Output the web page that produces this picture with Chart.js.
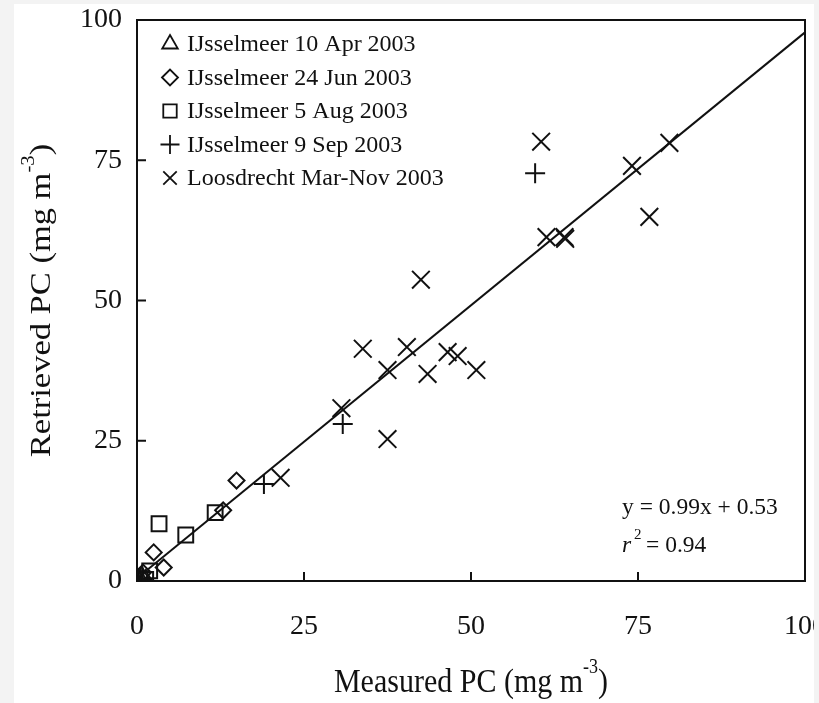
<!DOCTYPE html>
<html>
<head>
<meta charset="utf-8">
<script src="https://cdn.jsdelivr.net/npm/chart.js@4/dist/chart.umd.min.js"></script>
<style>
  html, body { margin: 0; padding: 0; background: #f3f3f3; overflow: hidden; }
  #sheet { position: absolute; left: 14px; top: 4px; width: 800px; height: 699px; background: #fff; overflow: hidden; }
  #pcChart { display: block; }
</style>
</head>
<body>
<div id="sheet">
  <canvas id="pcChart" width="830" height="699"></canvas>
</div>
<script>
// series labels (legend order)
const seriesLabels = [
  "IJsselmeer 10 Apr 2003",
  "IJsselmeer 24 Jun 2003",
  "IJsselmeer 5 Aug 2003",
  "IJsselmeer 9 Sep 2003",
  "Loosdrecht Mar-Nov 2003",
]

// measured (x) / retrieved (y) PC, mg m-3
const apr10Measured = [0.2, 0.7, 1.3, 0.4]
const apr10Retrieved = [0.2, 1.0, 0.3, 0.6]

const jun24Measured = [0.9, 2.5, 4.0, 12.9, 14.9]
const jun24Retrieved = [1.5, 5.1, 2.4, 12.6, 17.9]

const aug5Measured = [1.3, 1.9, 3.3, 7.3, 11.7]
const aug5Retrieved = [0.3, 1.8, 10.2, 8.2, 12.2]

const sep9Measured = [0.5, 19.0, 30.8, 59.6]
const sep9Retrieved = [0.4, 17.3, 28.0, 72.7]

const loosMeasured = [60.5, 79.7, 74.1, 76.7, 61.3, 64.0, 64.1, 42.5, 33.8, 40.4, 46.5, 48.0, 37.5, 43.5, 50.8, 30.6, 37.5, 21.5]
const loosRetrieved = [78.3, 78.1, 74.0, 64.9, 61.3, 61.3, 61.0, 53.7, 41.4, 41.7, 40.8, 40.1, 37.6, 36.9, 37.6, 30.8, 25.3, 18.4]

// regression line end points as drawn
const fitMeasured = [0, 100]
const fitRetrieved = [0.5, 97.8]

const tickValues = [0, 25, 50, 75, 100]
const fitText = "y = 0.99x + 0.53"
const r2Text = "= 0.94"

const INK = "#111"
const SERIF = "'Liberation Serif', 'Times New Roman', serif"

function toPoints(xs, ys) {
  return xs.map((x, i) => ({ x: x, y: ys[i] }))
}

const markerStyles = [
  { pointStyle: "triangle", radius: 9 },
  { pointStyle: "rectRot", radius: 8 },
  { pointStyle: "rect", radius: 10.5 },
  { pointStyle: "cross", radius: 10 },
  { pointStyle: "crossRot", radius: 12.5 },
]

const seriesData = [
  toPoints(apr10Measured, apr10Retrieved),
  toPoints(jun24Measured, jun24Retrieved),
  toPoints(aug5Measured, aug5Retrieved),
  toPoints(sep9Measured, sep9Retrieved),
  toPoints(loosMeasured, loosRetrieved),
]

const datasets = seriesData.map((pts, i) => ({
  label: seriesLabels[i],
  data: pts,
  pointStyle: markerStyles[i].pointStyle,
  pointRadius: markerStyles[i].radius,
  pointHoverRadius: markerStyles[i].radius,
  pointBorderWidth: 2,
  pointBorderColor: INK,
  pointBackgroundColor: "rgba(0,0,0,0)",
  showLine: false,
}))

datasets.push({
  label: "fit",
  data: toPoints(fitMeasured, fitRetrieved),
  showLine: true,
  borderColor: INK,
  borderWidth: 2,
  pointRadius: 0,
  fill: false,
})

// frame, inward ticks, legend, equation and axis titles
const decorPlugin = {
  id: "decor",
  afterDraw(chart) {
    const ctx = chart.ctx
    const area = chart.chartArea
    const xs = chart.scales.x
    const ys = chart.scales.y
    ctx.save()
    ctx.strokeStyle = INK
    ctx.lineWidth = 2
    ctx.beginPath()
    ctx.moveTo(area.left, area.top)
    ctx.lineTo(area.right, area.top)
    ctx.lineTo(area.right, area.bottom)
    tickValues.slice(1, -1).forEach(v => {
      const px = xs.getPixelForValue(v)
      ctx.moveTo(px, area.bottom)
      ctx.lineTo(px, area.bottom - 9)
      const py = ys.getPixelForValue(v)
      ctx.moveTo(area.left, py)
      ctx.lineTo(area.left + 9, py)
    })
    ctx.stroke()

    // legend
    ctx.font = "24px " + SERIF
    ctx.textBaseline = "middle"
    ctx.textAlign = "left"
    seriesLabels.forEach((label, i) => {
      const y = area.top + 24 + i * 33.5
      ctx.fillStyle = "rgba(0,0,0,0)"
      ctx.strokeStyle = INK
      ctx.lineWidth = 1.8
      Chart.helpers.drawPoint(ctx, {
        pointStyle: markerStyles[i].pointStyle,
        radius: Math.min(markerStyles[i].radius, 9.5),
        rotation: 0,
        borderWidth: 1.8,
      }, area.left + 33, y)
      ctx.fillStyle = INK
      ctx.fillText(label, area.left + 50, y + 1)
    })

    // regression equation
    ctx.font = "23.5px " + SERIF
    ctx.fillText(fitText, area.right - 183, area.bottom - 73)
    ctx.font = "italic 23.5px " + SERIF
    ctx.fillText("r", area.right - 183, area.bottom - 35)
    ctx.font = "15px " + SERIF
    ctx.fillText("2", area.right - 171, area.bottom - 46)
    ctx.font = "23.5px " + SERIF
    ctx.fillText(r2Text, area.right - 159, area.bottom - 35)

    // axis titles with superscript
    drawTitle(ctx, "Measured PC (mg m", (area.left + area.right) / 2, 679, 0, 1, 1.15)
    drawTitle(ctx, "Retrieved PC (mg m", 28, (area.top + area.bottom) / 2, -Math.PI / 2, 1.15, 1)
    ctx.restore()
  },
}

function drawTitle(ctx, text, cx, cy, rot, sx, sy) {
  ctx.save()
  ctx.translate(cx, cy)
  ctx.rotate(rot)
  ctx.scale(sx, sy)
  ctx.fillStyle = INK
  ctx.textBaseline = "middle"
  ctx.textAlign = "left"
  const big = "30px " + SERIF
  const small = "18px " + SERIF
  ctx.font = big
  const w1 = ctx.measureText(text).width
  const w3 = ctx.measureText(")").width
  ctx.font = small
  const w2 = ctx.measureText("-3").width
  const total = w1 + w2 + w3
  let x = -total / 2
  ctx.font = big
  ctx.fillText(text, x, 0)
  x += w1
  ctx.font = small
  ctx.fillText("-3", x, -13)
  x += w2
  ctx.font = big
  ctx.fillText(")", x, 0)
  ctx.restore()
}

const tickFont = { family: SERIF, size: 28, lineHeight: 1 }

new Chart(document.getElementById("pcChart"), {
  type: "scatter",
  data: { datasets: datasets },
  options: {
    responsive: false,
    animation: false,
    layout: { padding: { left: 0, top: 16, right: 39, bottom: 0 } },
    plugins: {
      legend: { display: false },
      tooltip: { enabled: false },
    },
    scales: {
      x: {
        type: "linear",
        min: 0,
        max: 100,
        afterBuildTicks: (scale) => { scale.ticks = tickValues.map(v => ({ value: v })) },
        afterFit: (scale) => {
          scale.height = 122
          scale.paddingLeft = 0
          scale.paddingRight = 0
        },
        ticks: { font: tickFont, color: INK, padding: 32, maxRotation: 0 },
        grid: { drawOnChartArea: false, drawTicks: false },
        border: { color: INK, width: 2 },
      },
      y: {
        type: "linear",
        min: 0,
        max: 100,
        afterBuildTicks: (scale) => { scale.ticks = tickValues.map(v => ({ value: v })) },
        afterFit: (scale) => {
          scale.width = 123
          scale.paddingTop = 0
          scale.paddingBottom = 0
        },
        ticks: { font: tickFont, color: INK, padding: 15 },
        grid: { drawOnChartArea: false, drawTicks: false },
        border: { color: INK, width: 2 },
      },
    },
  },
  plugins: [decorPlugin],
})
</script>
</body>
</html>
